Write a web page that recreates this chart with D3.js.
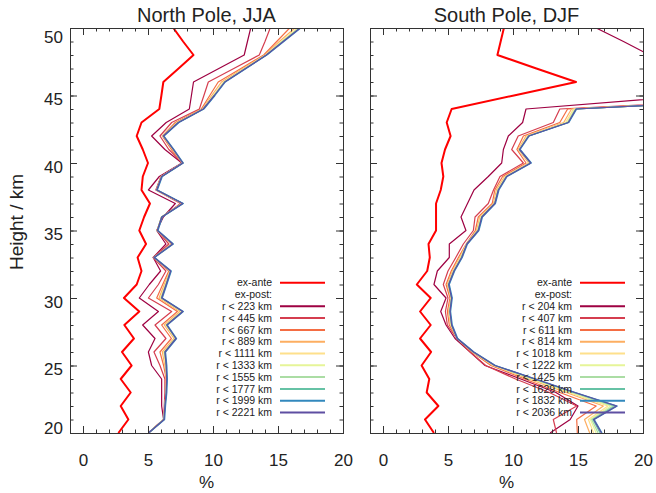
<!DOCTYPE html>
<html>
<head>
<meta charset="utf-8">
<script src="https://cdn.jsdelivr.net/npm/d3@7"></script>
<style>
  body { margin: 0; background: #fff; }
  text { font-family: "Liberation Sans", Arial, sans-serif; fill: #222; }
</style>
</head>
<body>
<div id="chart"></div>
<script>

var width = 656,
    height = 493;

// heights in km, one value per level
var heights = [20,21,22,23,24,25,26,27,28,29,30,31,32,33,34,35,36,37,38,39,40,41,42,43,44,45,46,47,48,49,50];

var xTicks = [0, 5, 10, 15, 20];
var yTicks = [20, 25, 30, 35, 40, 45, 50];

// North Pole, JJA
var npRadii = [223, 445, 667, 889, 1111, 1333, 1555, 1777, 1999, 2221];
var npExAnte = [2.72,3.49,2.9,3.67,2.9,3.74,3.0,3.92,3.18,4.33,3.15,4.13,4.5,4.2,4.85,4.33,4.7,5.15,4.5,4.6,5.0,4.6,4.13,4.5,5.87,6.03,6.18,7.35,8.5,7.7,6.95];
var np223  = [5.03,6.2,6.05,6.05,6.05,5.28,5.03,5.54,4.59,5.8,4.33,5.1,5.97,5.4,6.38,5.67,6.18,7.1,5.03,5.87,7.6,6.3,5.28,6.4,8.18,8.34,8.5,10.45,12.4,12.65,12.9];
var np445  = [5.03,6.2,6.25,6.3,6.3,5.92,5.46,6.38,5.54,6.82,5.03,5.8,6.38,5.4,6.6,5.7,6.1,7.5,5.6,6.0,7.67,6.6,5.92,6.82,8.95,9.3,9.64,11.6,13.56,14.0,14.4];
var np667  = [5.03,6.2,6.3,6.4,6.4,6.2,5.92,6.8,6.05,7.26,5.67,6.13,6.6,5.45,6.8,5.7,6.05,7.6,5.65,6.0,7.67,6.8,6.1,7.1,9.1,9.75,10.4,12.15,13.9,14.9,15.9];
var np889  = [5.03,6.2,6.3,6.4,6.42,6.3,6.1,7.0,6.25,7.45,5.85,6.25,6.68,5.45,6.85,5.7,6.05,7.63,5.66,6.03,7.67,6.88,6.14,7.2,9.18,9.9,10.65,12.3,14.0,15.1,16.3];
var np1111 = [5.03,6.22,6.3,6.4,6.43,6.35,6.2,7.08,6.35,7.56,5.95,6.32,6.7,5.46,6.88,5.71,6.05,7.65,5.67,6.04,7.67,6.92,6.16,7.26,9.22,10.0,10.8,12.4,14.05,15.25,16.5];
var np1333 = [5.03,6.22,6.3,6.4,6.44,6.38,6.25,7.1,6.4,7.62,6.0,6.36,6.72,5.46,6.9,5.72,6.05,7.66,5.67,6.05,7.67,6.94,6.17,7.3,9.24,10.05,10.85,12.45,14.08,15.3,16.6];
var np1555 = [5.03,6.23,6.3,6.4,6.44,6.4,6.28,7.12,6.42,7.65,6.03,6.38,6.73,5.46,6.9,5.72,6.05,7.67,5.67,6.05,7.67,6.95,6.18,7.32,9.25,10.08,10.88,12.48,14.1,15.35,16.65];
var np1777 = [5.03,6.23,6.3,6.4,6.44,6.4,6.3,7.14,6.44,7.66,6.04,6.4,6.74,5.46,6.9,5.72,6.05,7.67,5.67,6.05,7.67,6.95,6.18,7.33,9.25,10.1,10.9,12.5,14.1,15.38,16.68];
var np1999 = [5.06,6.28,6.35,6.45,6.49,6.45,6.35,7.2,6.49,7.72,6.1,6.45,6.79,5.51,6.95,5.77,6.1,7.72,5.72,6.1,7.72,7.0,6.23,7.38,9.3,10.15,10.95,12.55,14.15,15.45,16.75];
var np2221 = [5.03,6.23,6.3,6.4,6.44,6.4,6.3,7.15,6.44,7.67,6.05,6.4,6.74,5.46,6.9,5.72,6.05,7.67,5.67,6.05,7.67,6.95,6.18,7.33,9.25,10.1,10.9,12.5,14.1,15.4,16.7];

// South Pole, DJF
var spRadii = [204, 407, 611, 814, 1018, 1222, 1425, 1629, 1832, 2036];
var spExAnte = [3.92,3.23,4.26,3.36,3.56,2.97,3.7,2.85,3.67,2.85,3.67,2.6,3.4,3.6,3.5,4.08,4.08,4.08,4.44,4.64,4.5,4.77,5.2,4.9,5.28,10.07,14.85,11.8,8.8,9.05,9.3];
var sp204  = [12.85,14.4,15.0,13.3,10.6,7.85,6.7,5.54,4.85,4.44,4.85,3.92,4.18,5.1,5.1,6.38,6.0,6.5,7.0,8.1,9.13,9.26,9.64,10.74,11.0,24,27,24,20.5,18.5,16.4];
var sp407  = [13.35,13.1,14.9,12.8,10.2,7.9,6.7,5.67,4.95,4.8,5.0,4.64,5.0,5.6,6.18,6.95,7.08,8.1,8.5,9.0,10.8,9.9,10.4,13.1,13.6,35,38,36,34,32,30];
var sp611  = [14.95,14.9,16.4,13.6,10.9,8.3,6.85,5.7,5.1,4.95,5.15,4.85,5.25,5.8,6.4,7.1,7.33,8.4,8.6,9.2,11.0,10.3,10.8,13.6,14.2,35.5,38,36,34,32,30];
var sp814  = [15.9,15.5,16.95,14.1,11.2,8.45,6.9,5.7,5.2,5.05,5.22,4.95,5.35,5.9,6.42,7.2,7.45,8.5,8.72,9.35,11.2,10.4,11.0,13.9,14.5,35.5,38,36,34,32,30];
var sp1018 = [16.2,15.8,17.3,14.3,11.4,8.5,6.92,5.7,5.23,5.1,5.25,5.0,5.4,5.95,6.43,7.25,7.5,8.55,8.8,9.4,11.3,10.45,11.1,14.05,14.65,35.6,38,36,34,32,30];
var sp1222 = [16.4,15.95,17.5,14.45,11.5,8.55,6.93,5.7,5.25,5.12,5.26,5.02,5.43,6.0,6.44,7.28,7.55,8.58,8.83,9.45,11.33,10.48,11.15,14.15,14.75,35.7,38,36,34,32,30];
var sp1425 = [16.55,16.05,17.7,14.6,11.6,8.58,6.94,5.7,5.27,5.14,5.27,5.04,5.45,6.02,6.45,7.3,7.58,8.6,8.85,9.48,11.35,10.5,11.18,14.2,14.8,35.8,38,36,34,32,30];
var sp1629 = [16.7,16.15,17.85,14.7,11.65,8.6,6.95,5.7,5.28,5.15,5.28,5.05,5.46,6.05,6.45,7.33,7.6,8.6,8.87,9.5,11.36,10.5,11.2,14.25,14.85,35.9,38,36,34,32,30];
var sp1832 = [16.85,16.25,18.02,14.8,11.75,8.65,7.0,5.75,5.33,5.2,5.33,5.1,5.51,6.1,6.5,7.38,7.65,8.65,8.92,9.55,11.41,10.55,11.25,14.3,14.9,36,38,36,34,32,30];
var sp2036 = [16.8,16.2,17.97,14.75,11.7,8.6,6.95,5.7,5.28,5.15,5.28,5.05,5.46,6.05,6.45,7.33,7.6,8.6,8.87,9.5,11.36,10.5,11.2,14.25,14.85,36,38,36,34,32,30];

var colors = d3.schemeSpectral[10];

var panels = [
  { title: "North Pole, JJA", x0: 70,  x1: 343, exAnte: npExAnte, radii: npRadii,
    series: [np223, np445, np667, np889, np1111, np1333, np1555, np1777, np1999, np2221] },
  { title: "South Pole, DJF", x0: 370, x1: 643, exAnte: spExAnte, radii: spRadii,
    series: [sp204, sp407, sp611, sp814, sp1018, sp1222, sp1425, sp1629, sp1832, sp2036] }
];

var plotTop = 28, plotBottom = 433;

var svg = d3.select("#chart").append("svg")
    .attr("width", width)
    .attr("height", height);

var y = d3.scaleLinear().domain([20, 50]).range([plotBottom, plotTop]);

panels.forEach(function(p, pi) {
  var x = d3.scaleLinear().domain([-1, 20]).range([p.x0, p.x1]);
  var g = svg.append("g");

  var clipId = "clip" + pi;
  svg.append("clipPath").attr("id", clipId)
    .append("rect")
      .attr("x", p.x0).attr("y", plotTop)
      .attr("width", p.x1 - p.x0).attr("height", plotBottom - plotTop);

  var line = d3.line()
      .x(function(d) { return x(d[1]); })
      .y(function(d) { return y(d[0]); });

  var lines = g.append("g").attr("clip-path", "url(#" + clipId + ")");

  p.series.forEach(function(s, i) {
    lines.append("path")
      .datum(d3.zip(heights, s))
      .attr("fill", "none")
      .attr("stroke", colors[i])
      .attr("stroke-width", 1.2)
      .attr("stroke-linejoin", "round")
      .attr("d", line);
  });

  lines.append("path")
    .datum(d3.zip(heights, p.exAnte))
    .attr("fill", "none")
    .attr("stroke", "#ff0000")
    .attr("stroke-width", 2)
    .attr("stroke-linejoin", "round")
    .attr("d", line);

  // axes: minor and major ticks on all four sides, pointing inward
  var minorX = d3.range(0, 20), minorY = d3.range(21, 50);

  function addAxis(axis, tx, ty) {
    var a = g.append("g")
      .attr("transform", "translate(" + tx + "," + ty + ")")
      .call(axis);
    a.select(".domain").remove();
    a.selectAll("line").attr("stroke", "#333");
    return a;
  }

  addAxis(d3.axisBottom(x).tickValues(minorX).tickSize(-3.5).tickFormat(""), 0, plotBottom);
  addAxis(d3.axisTop(x).tickValues(minorX).tickSize(-3.5).tickFormat(""), 0, plotTop);
  addAxis(d3.axisLeft(y).tickValues(minorY).tickSize(-3.5).tickFormat(""), p.x0, 0);
  addAxis(d3.axisRight(y).tickValues(minorY).tickSize(-3.5).tickFormat(""), p.x1, 0);

  var xb = addAxis(d3.axisBottom(x).tickValues(xTicks).tickSize(-7).tickPadding(21), 0, plotBottom);
  xb.selectAll("text").style("font-size", "17px").attr("fill", "#222");
  addAxis(d3.axisTop(x).tickValues(xTicks.slice(0, 4)).tickSize(-7).tickFormat(""), 0, plotTop);
  addAxis(d3.axisRight(y).tickValues(yTicks).tickSize(-7).tickFormat(""), p.x1, 0);
  var yl = addAxis(d3.axisLeft(y).tickValues(yTicks).tickSize(-7).tickPadding(7)
      .tickFormat(pi === 0 ? d3.format("d") : ""), p.x0, 0);
  yl.selectAll("text")
    .style("font-size", "17px")
    .attr("fill", "#222")
    .attr("dy", function(d) { return d === 50 ? "0.85em" : d === 20 ? "0em" : "0.55em"; });

  g.append("rect")
    .attr("x", p.x0 + 0.5).attr("y", plotTop + 0.5)
    .attr("width", p.x1 - p.x0).attr("height", plotBottom - plotTop)
    .attr("fill", "none")
    .attr("stroke", "#333")
    .attr("stroke-width", 1);

  g.append("text")
    .attr("x", (p.x0 + p.x1) / 2)
    .attr("y", 22)
    .attr("text-anchor", "middle")
    .style("font-size", "20px")
    .text(p.title);

  g.append("text")
    .attr("x", (p.x0 + p.x1) / 2)
    .attr("y", 488)
    .attr("text-anchor", "middle")
    .style("font-size", "17px")
    .text("%");

  // legend
  var items = [{ label: "ex-ante", color: "#ff0000" }, { label: "ex-post:", color: null }];
  p.radii.forEach(function(r, i) {
    items.push({ label: "r < " + r + " km", color: colors[i] });
  });

  var leg = g.append("g");
  items.forEach(function(it, i) {
    var ly = 282.7 + i * 11.8;
    leg.append("text")
      .attr("x", p.x1 - 71)
      .attr("y", ly)
      .attr("dy", "0.35em")
      .attr("text-anchor", "end")
      .style("font-size", "10.5px")
      .text(it.label);
    if (it.color) {
      leg.append("line")
        .attr("x1", p.x1 - 63).attr("x2", p.x1 - 18)
        .attr("y1", ly).attr("y2", ly)
        .attr("stroke", it.color)
        .attr("stroke-width", 2);
    }
  });
});

svg.append("text")
  .attr("transform", "translate(23,222) rotate(-90)")
  .attr("text-anchor", "middle")
  .style("font-size", "19px")
  .text("Height / km");

</script>
</body>
</html>
